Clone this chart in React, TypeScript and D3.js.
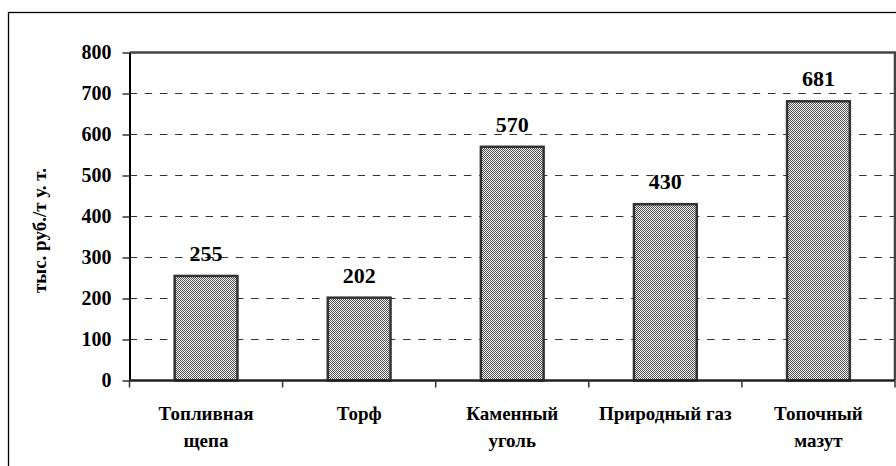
import React, { useRef, useEffect } from 'react';
import * as d3 from 'd3';

// chart data
const categories: string[] = ['Топливная щепа', 'Торф', 'Каменный уголь', 'Природный газ', 'Топочный мазут'];
const categoryLines: string[][] = [['Топливная', 'щепа'], ['Торф'], ['Каменный', 'уголь'], ['Природный газ'], ['Топочный', 'мазут']];
const values: number[] = [255, 202, 570, 430, 681];
const yTicks: number[] = [0, 100, 200, 300, 400, 500, 600, 700, 800];
const yTitle = 'тыс. руб./т у. т.';

const App = () => {
    const svgRef = useRef<SVGSVGElement>(null);
    const width = 896;
    const height = 466;

    useEffect(() => {
        const svg = d3.select(svgRef.current);
        svg.selectAll('*').remove();

        const font = "'Liberation Serif', Tinos, 'Times New Roman', Times, 'Nimbus Roman', 'Noto Serif', 'DejaVu Serif', FreeSerif, serif";
        const plot = { left: 129.5, right: 895, top: 52.5, bottom: 380.5 };

        // checker pattern for bars
        const defs = svg.append('defs');
        const pat = defs.append('pattern')
            .attr('id', 'checker')
            .attr('width', 2)
            .attr('height', 2)
            .attr('patternUnits', 'userSpaceOnUse');
        pat.append('rect').attr('width', 2).attr('height', 2).attr('fill', '#ffffff');
        pat.append('rect').attr('width', 1).attr('height', 1).attr('fill', '#4a4a4a');
        pat.append('rect').attr('x', 1).attr('y', 1).attr('width', 1).attr('height', 1).attr('fill', '#4a4a4a');

        // outer frame
        svg.append('rect')
            .attr('x', 8.5)
            .attr('y', 12.5)
            .attr('width', 1000)
            .attr('height', 1000)
            .attr('fill', '#fff')
            .attr('stroke', '#000')
            .attr('stroke-width', 1.3);

        const x = d3.scaleBand<string>()
            .domain(categories)
            .range([plot.left, plot.right])
            .paddingInner(0.59)
            .paddingOuter(0.295);

        const xCat = d3.scaleBand<string>()
            .domain(categories)
            .range([plot.left, plot.right]);

        const y = d3.scaleLinear()
            .domain([0, 800])
            .range([plot.bottom, plot.top]);

        // grid lines
        svg.append('g')
            .selectAll('line')
            .data(yTicks.filter(t => t > 0 && t < 800))
            .enter()
            .append('line')
            .attr('x1', plot.left)
            .attr('x2', plot.right)
            .attr('y1', d => y(d))
            .attr('y2', d => y(d))
            .attr('stroke', '#333')
            .attr('stroke-width', 1.2)
            .attr('stroke-dasharray', '7.5 7.7');

        // plot border (top + right)
        svg.append('path')
            .attr('d', `M${plot.left},${plot.top}H${plot.right}V${plot.bottom}`)
            .attr('fill', 'none')
            .attr('stroke', '#444')
            .attr('stroke-width', 2.5);

        // bars
        svg.append('g')
            .selectAll('rect')
            .data(values)
            .enter()
            .append('rect')
            .attr('x', (d, i) => x(categories[i])!)
            .attr('y', d => y(d))
            .attr('width', x.bandwidth())
            .attr('height', d => y(0) - y(d))
            .attr('fill', 'url(#checker)')
            .attr('stroke', '#333')
            .attr('stroke-width', 2.5);

        // value labels
        svg.append('g')
            .selectAll('text')
            .data(values)
            .enter()
            .append('text')
            .attr('x', (d, i) => x(categories[i])! + x.bandwidth() / 2)
            .attr('y', d => y(d) - 15)
            .attr('text-anchor', 'middle')
            .style('font-family', font)
            .style('font-weight', 'bold')
            .style('font-size', '22px')
            .attr('fill', '#000')
            .text(d => d);

        // y axis
        const yAxis = svg.append('g')
            .attr('transform', `translate(${plot.left},0)`)
            .call(d3.axisLeft(y).tickValues(yTicks).tickSize(7).tickPadding(11).tickSizeOuter(0));
        yAxis.select('.domain').attr('stroke', '#000').attr('stroke-width', 2);
        yAxis.selectAll('.tick line').attr('stroke', '#333').attr('stroke-width', 1.5);
        yAxis.selectAll('.tick text')
            .style('font-family', font)
            .style('font-weight', 'bold')
            .style('font-size', '20px')
            .attr('fill', '#000');

        // x axis with ticks at category boundaries
        const xAxis = svg.append('g');
        xAxis.append('line')
            .attr('x1', plot.left)
            .attr('x2', plot.right)
            .attr('y1', plot.bottom)
            .attr('y2', plot.bottom)
            .attr('stroke', '#222')
            .attr('stroke-width', 2.5);
        xAxis.selectAll('line.tick')
            .data(categories)
            .enter()
            .append('line')
            .attr('class', 'tick')
            .attr('x1', d => xCat(d)! + xCat.bandwidth())
            .attr('x2', d => xCat(d)! + xCat.bandwidth())
            .attr('y1', plot.bottom)
            .attr('y2', plot.bottom + 7)
            .attr('stroke', '#333')
            .attr('stroke-width', 1.5);
        xAxis.append('line')
            .attr('x1', plot.left)
            .attr('x2', plot.left)
            .attr('y1', plot.bottom)
            .attr('y2', plot.bottom + 7)
            .attr('stroke', '#333')
            .attr('stroke-width', 1.5);

        // category labels
        const labels = svg.append('g')
            .selectAll('text')
            .data(categoryLines)
            .enter()
            .append('text')
            .attr('text-anchor', 'middle')
            .style('font-family', font)
            .style('font-weight', 'bold')
            .style('font-size', '19px')
            .attr('fill', '#000');
        labels.each(function (lines, i) {
            const t = d3.select(this);
            const cx = xCat(categories[i])! + xCat.bandwidth() / 2;
            lines.forEach((ln, k) => {
                t.append('tspan')
                    .attr('x', cx)
                    .attr('y', 420 + k * 27)
                    .text(ln);
            });
        });

        // y title
        svg.append('text')
            .attr('transform', `translate(46,${(plot.top + plot.bottom) / 2 + 14}) rotate(-90)`)
            .attr('text-anchor', 'middle')
            .style('font-family', font)
            .style('font-weight', 'bold')
            .style('font-size', '19px')
            .attr('fill', '#000')
            .text(yTitle);
    }, []);

    return (
        <svg
            ref={svgRef}
            width={width}
            height={height}
            style={{ position: 'absolute', left: 0, top: 0, background: '#fff' }}
        />
    );
};

export default App;
